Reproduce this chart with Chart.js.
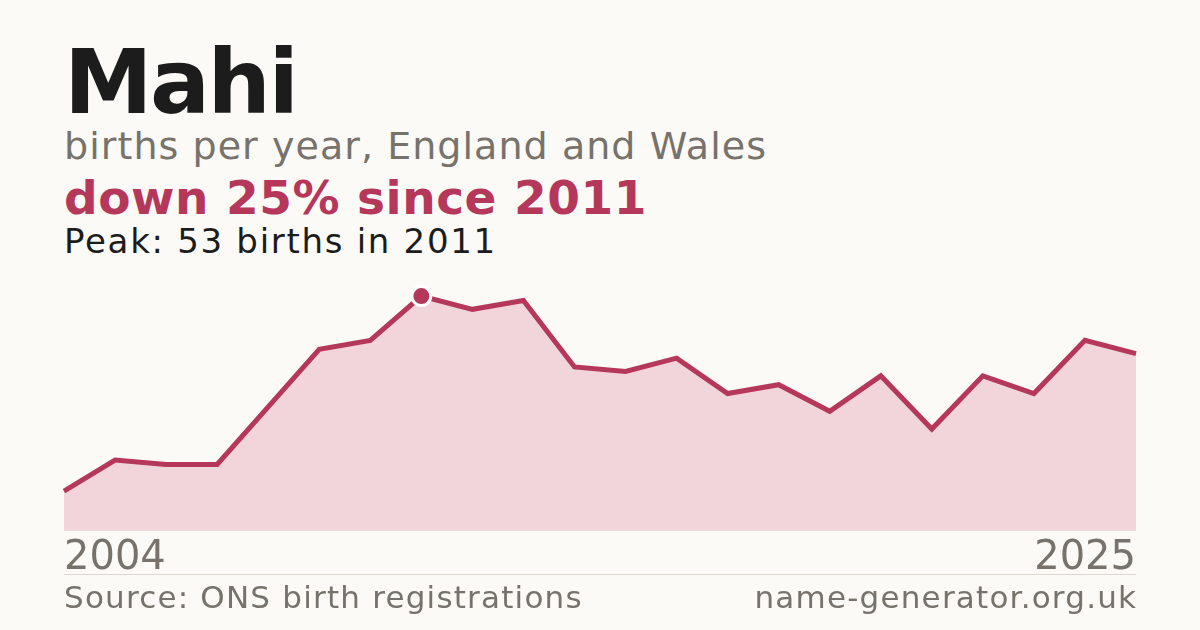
<!DOCTYPE html>
<html>
<head>
<meta charset="utf-8">
<script src="https://cdn.jsdelivr.net/npm/chart.js@4.4.1/dist/chart.umd.min.js"></script>
<style>
  html, body { margin:0; padding:0; }
  body { width:1200px; height:630px; background:#fbfaf6; position:relative; overflow:hidden; font-family:"DejaVu Sans", sans-serif; }
  .t { position:absolute; left:64px; white-space:nowrap; line-height:1; }
  #title { top:38px; font-size:89px; font-weight:bold; color:#1c1c1c; letter-spacing:-2.5px; }
  #sub { top:127px; font-size:38px; color:#77726b; letter-spacing:1.05px; }
  #trend { top:174px; font-size:47px; font-weight:bold; color:#b5375a; letter-spacing:0.55px; }
  #peak { top:224px; font-size:34px; color:#1c1c1c; letter-spacing:1.7px; }
  #sep { position:absolute; left:64px; width:1072px; top:574px; height:1px; background:#dcd8d0; }
  .foot { position:absolute; top:582px; font-size:31px; color:#77726b; line-height:1; white-space:nowrap; letter-spacing:1.2px; }
  #src { left:64px; }
  #site { right:62.8px; }
  #wrap { position:absolute; left:60px; top:265px; width:1080px; height:322px; }
</style>
</head>
<body>
<div class="t" id="title">Mahi</div>
<div class="t" id="sub">births per year, England and Wales</div>
<div class="t" id="trend">down 25% since 2011</div>
<div class="t" id="peak">Peak: 53 births in 2011</div>
<div id="wrap"><canvas id="c"></canvas></div>
<div id="sep"></div>
<div class="foot" id="src">Source: ONS birth registrations</div>
<div class="foot" id="site">name-generator.org.uk</div>
<script>
const years = [2004,2005,2006,2007,2008,2009,2010,2011,2012,2013,2014,2015,2016,2017,2018,2019,2020,2021,2022,2023,2024,2025];
const births = [9,16,15,15,28,41,43,53,50,52,37,36,39,31,33,27,35,23,35,31,43,40];
const tickLabels = ["2004","2025"];

const peakIdx = births.indexOf(Math.max(...births));
const radii = births.map((v,i)=> i===peakIdx ? 9.5 : 0);

new Chart(document.getElementById('c'), {
  type:'line',
  data:{
    labels: years.map(String),
    datasets:[{
      data: births,
      borderColor:'#b5375a',
      borderWidth:5,
      backgroundColor:'#f1d5da',
      fill:'origin',
      tension:0,
      pointRadius: radii,
      pointHoverRadius: radii,
      pointBackgroundColor:'#b5375a',
      pointBorderColor:'#ffffff',
      pointBorderWidth:3,
      clip:false
    }]
  },
  options:{
    responsive:true,
    maintainAspectRatio:false,
    animation:false,
    events:[],
    layout:{ padding:0 },
    plugins:{ legend:{display:false}, tooltip:{enabled:false} },
    scales:{
      x:{
        offset:false,
        grid:{ display:false, drawTicks:false },
        border:{ display:false },
        ticks:{
          autoSkip:false,
          maxRotation:0,
          align:'inner',
          padding:4,
          color:'#77726b',
          font:{ family:'DejaVu Sans', size:40 },
          callback:(v,i)=> (i===0 ? tickLabels[0] : (i===years.length-1 ? tickLabels[1] : null))
        }
      },
      y:{
        display:false,
        min:0,
        max:60
      }
    }
  }
});
</script>
</body>
</html>
